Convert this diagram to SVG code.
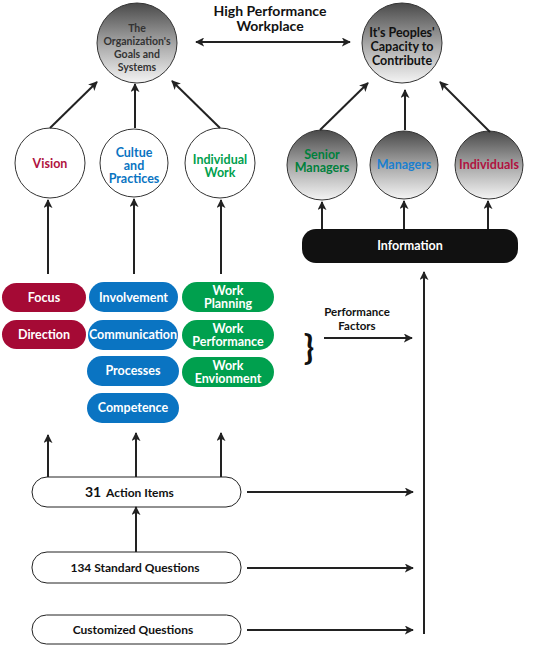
<svg xmlns="http://www.w3.org/2000/svg" width="547" height="646" viewBox="0 0 547 646">
<defs>
<linearGradient id="g" x1="0" y1="0" x2="0" y2="1">
<stop offset="0" stop-color="#4a4a4a"/>
<stop offset="0.55" stop-color="#adadad"/>
<stop offset="1" stop-color="#f4f4f4"/>
</linearGradient>
<marker id="a" viewBox="0 0 10 10" refX="9" refY="5" markerWidth="9" markerHeight="9" markerUnits="userSpaceOnUse" orient="auto-start-reverse">
<path d="M0,0 L10,5 L0,10 L2.5,5 Z" fill="#222"/>
</marker>
</defs>
<style>
text{font-family:Lato,"Open Sans",sans-serif;font-weight:700;text-anchor:middle}
.st{text-anchor:start}
.c{fill:#fff;stroke:#333;stroke-width:1}
.gc{fill:url(#g);stroke:#333;stroke-width:1}
.w{fill:#fff;stroke:#222;stroke-width:1}
.red{fill:#a50a35}
.blue{fill:#0a74c2}
.green{fill:#00a04e}
.pt{fill:#fff;font-size:12.5px}
.ln{stroke:#222;stroke-width:2;fill:none;marker-end:url(#a)}
</style>
<text x="270" y="16" font-size="14" font-weight="900" fill="#111">High Performance</text>
<text x="270" y="31" font-size="14" font-weight="900" fill="#111">Workplace</text>
<g id="org">
<circle class="gc" cx="137" cy="43" r="40"/>
<text font-size="10.5" fill="#333"><tspan x="137" y="32">The</tspan><tspan x="137" y="45">Organization's</tspan><tspan x="137" y="58">Goals and</tspan><tspan x="137" y="71">Systems</tspan></text>
</g>
<g id="people">
<circle class="gc" cx="402" cy="43" r="40"/>
<text font-size="12.5" font-weight="400" fill="#111"><tspan x="402" y="37">It's Peoples'</tspan><tspan x="402" y="51">Capacity to</tspan><tspan x="402" y="65">Contribute</tspan></text>
</g>
<g id="vision"><circle class="c" cx="50" cy="163" r="35"/><text x="50" y="168" font-size="12.5" fill="#b01240">Vision</text></g>
<g id="culture"><circle class="c" cx="134" cy="163" r="34"/><text font-size="12.5" fill="#0a74c2"><tspan x="134" y="157">Cultue</tspan><tspan x="134" y="170">and</tspan><tspan x="134" y="183">Practices</tspan></text></g>
<g id="indwork"><circle class="c" cx="220" cy="163" r="35"/><text font-size="12.5" fill="#00a04e"><tspan x="220" y="164">Individual</tspan><tspan x="220" y="177">Work</tspan></text></g>
<g id="senior"><circle class="gc" cx="322" cy="165" r="35"/><text font-size="12.5" fill="#00803c"><tspan x="322" y="159">Senior</tspan><tspan x="322" y="172">Managers</tspan></text></g>
<g id="managers"><circle class="gc" cx="404" cy="165" r="34"/><text x="404" y="169" font-size="12.5" fill="#1a7fd0">Managers</text></g>
<g id="individuals"><circle class="gc" cx="489" cy="165" r="34"/><text x="489" y="169" font-size="12.5" fill="#b01240">Individuals</text></g>
<g id="information"><rect x="302" y="229" width="216" height="34" rx="14" fill="#111"/><text x="410" y="250" font-size="12.5" fill="#fff">Information</text></g>
<g id="focus"><rect class="red" x="2" y="283" width="84" height="29" rx="14.5"/><text class="pt" x="44" y="302">Focus</text></g>
<g id="direction"><rect class="red" x="2" y="320" width="84" height="29" rx="14.5"/><text class="pt" x="44" y="339">Direction</text></g>
<g id="involvement"><rect class="blue" x="89" y="282" width="89" height="30" rx="15"/><text class="pt" x="133.5" y="302">Involvement</text></g>
<g id="communication"><rect class="blue" x="88" y="320" width="90" height="30" rx="15"/><text class="pt" x="133" y="339">Communication</text></g>
<g id="processes"><rect class="blue" x="87" y="356" width="92" height="30" rx="15"/><text class="pt" x="133" y="375">Processes</text></g>
<g id="competence"><rect class="blue" x="87" y="393" width="92" height="30" rx="15"/><text class="pt" x="133" y="412">Competence</text></g>
<g id="workplanning"><rect class="green" x="182" y="282" width="92" height="30" rx="15"/><text class="pt"><tspan x="228" y="295">Work</tspan><tspan x="228" y="308">Planning</tspan></text></g>
<g id="workperformance"><rect class="green" x="182" y="320" width="92" height="30" rx="15"/><text class="pt"><tspan x="228" y="333">Work</tspan><tspan x="228" y="346">Performance</tspan></text></g>
<g id="workenv"><rect class="green" x="182" y="357" width="92" height="30" rx="15"/><text class="pt"><tspan x="228" y="370">Work</tspan><tspan x="228" y="383">Envionment</tspan></text></g>
<g id="perffactors"><text font-size="11.5" fill="#111"><tspan x="357" y="316">Performance</tspan><tspan x="357" y="330">Factors</tspan></text><text x="309" y="359" font-size="34" font-weight="400" fill="#111" font-family="Liberation Serif,serif">}</text></g>
<g id="action"><rect class="w" x="32" y="477" width="209" height="30" rx="15"/><text class="st" x="85" y="497" font-size="14" font-weight="900" fill="#111">31</text><text class="st" x="106" y="497" font-size="12" fill="#111">Action Items</text></g>
<g id="standard"><rect class="w" x="32" y="552" width="209" height="31" rx="15"/><text x="135" y="572" font-size="12" fill="#111">134 Standard Questions</text></g>
<g id="custom"><rect class="w" x="32" y="615" width="209" height="29" rx="14.5"/><text x="133" y="634" font-size="12" fill="#111">Customized Questions</text></g>
<g id="connectors">
<path class="ln" d="M196,42 H350" marker-start="url(#a)"/>
<path class="ln" d="M50,128 L97,82"/>
<path class="ln" d="M135,128 V84"/>
<path class="ln" d="M220,128 L172,81"/>
<path class="ln" d="M320,130 L368,83"/>
<path class="ln" d="M405,130 V90"/>
<path class="ln" d="M490,132 L440,82"/>
<path class="ln" d="M322,229 V202"/>
<path class="ln" d="M404,229 V201"/>
<path class="ln" d="M488,229 V201"/>
<path class="ln" d="M48,274 V200"/>
<path class="ln" d="M134,274 V199"/>
<path class="ln" d="M221,274 V200"/>
<path class="ln" d="M48,477 V435"/>
<path class="ln" d="M136,477 V433"/>
<path class="ln" d="M221,477 V433"/>
<path class="ln" d="M136,552 V507"/>
<path class="ln" d="M424,634 V272"/>
<path class="ln" d="M324,338 H412"/>
<path class="ln" d="M247,492 H413"/>
<path class="ln" d="M247,568 H413"/>
<path class="ln" d="M247,630 H413"/>
</g>
</svg>
